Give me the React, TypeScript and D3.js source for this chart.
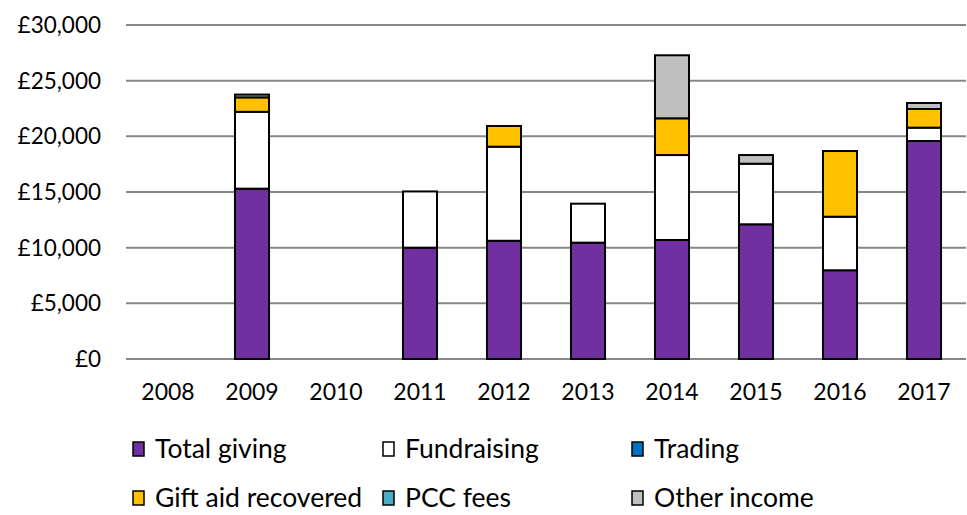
import React from "react";
import * as d3 from "d3";

const years = ["2008", "2009", "2010", "2011", "2012", "2013", "2014", "2015", "2016", "2017"];
const seriesNames = ["Total giving", "Fundraising", "Trading", "Gift aid recovered", "PCC fees", "Other income"];
const seriesColors = ["#7030A0", "#FFFFFF", "#0070C0", "#FFC000", "#4BACC6", "#BFBFBF"];

const totalGiving = [0, 15300, 0, 10000, 10620, 10450, 10690, 12100, 7970, 19580];
const fundraising = [0, 6900, 0, 5050, 8450, 3500, 7630, 5440, 4810, 1200];
const trading = [0, 0, 0, 0, 0, 0, 0, 0, 0, 0];
const giftAid = [0, 1300, 0, 0, 1860, 0, 3300, 0, 5900, 1675];
const pccFees = [0, 0, 0, 0, 0, 0, 0, 0, 0, 0];
const otherIncome = [0, 250, 0, 0, 0, 0, 5660, 780, 0, 540];

const yTicks = [0, 5000, 10000, 15000, 20000, 25000, 30000];

const W = 967;
const H = 515;
const margin = { left: 126, right: 1, top: 25, bottom: 156 };
const FONT = "Lato, 'Open Sans', sans-serif";

export default function App() {
  const values = [totalGiving, fundraising, trading, giftAid, pccFees, otherIncome];
  const rows = years.map((y, i) => {
    const r: any = { year: y };
    seriesNames.forEach((s, k) => (r[s] = values[k][i]));
    return r;
  });
  const stack = d3.stack<any>().keys(seriesNames)(rows);

  const x = d3
    .scaleBand()
    .domain(years)
    .range([margin.left, W - margin.right])
    .paddingInner(0.595)
    .paddingOuter(0.2975);
  const y = d3.scaleLinear().domain([0, 30000]).range([H - margin.bottom, margin.top]);
  const fmt = (v: number) => "£" + d3.format(",")(v);

  const legendPos = [
    [133, 449],
    [383, 449],
    [632, 449],
    [133, 498],
    [383, 498],
    [632, 498],
  ];

  return (
    <svg width={W} height={H} style={{ position: "absolute", left: 0, top: 0, background: "#fff" }}>
      {yTicks.map((t) => (
        <g key={t}>
          <line x1={margin.left} x2={W - margin.right} y1={y(t)} y2={y(t)} stroke="#878787" strokeWidth={2} />
          <text x={101} y={y(t) + 8} textAnchor="end" fontFamily={FONT} fontSize={22.5} fill="#000">
            {fmt(t)}
          </text>
        </g>
      ))}
      {stack.map((layer, k) =>
        layer.map((d, i) => {
          const h = y(d[0]) - y(d[1]);
          if (h <= 0) return null;
          return (
            <rect
              key={k + "-" + i}
              x={x(years[i])}
              y={y(d[1])}
              width={x.bandwidth()}
              height={h}
              fill={seriesColors[k]}
              stroke="#000"
              strokeWidth={2}
            />
          );
        })
      )}
      {years.map((yr) => (
        <text
          key={yr}
          x={(x(yr) as number) + x.bandwidth() / 2}
          y={400}
          textAnchor="middle"
          fontFamily={FONT}
          fontSize={23}
          fill="#000"
        >
          {yr}
        </text>
      ))}
      {seriesNames.map((s, k) => (
        <g key={s} transform={`translate(${legendPos[k][0]},${legendPos[k][1]})`}>
          <rect x={0} y={-7} width={11} height={14} fill={seriesColors[k]} stroke="#000" strokeWidth={1.5} />
          <text x={22} y={9} fontFamily={FONT} fontSize={26.5} fill="#000">
            {s}
          </text>
        </g>
      ))}
    </svg>
  );
}
